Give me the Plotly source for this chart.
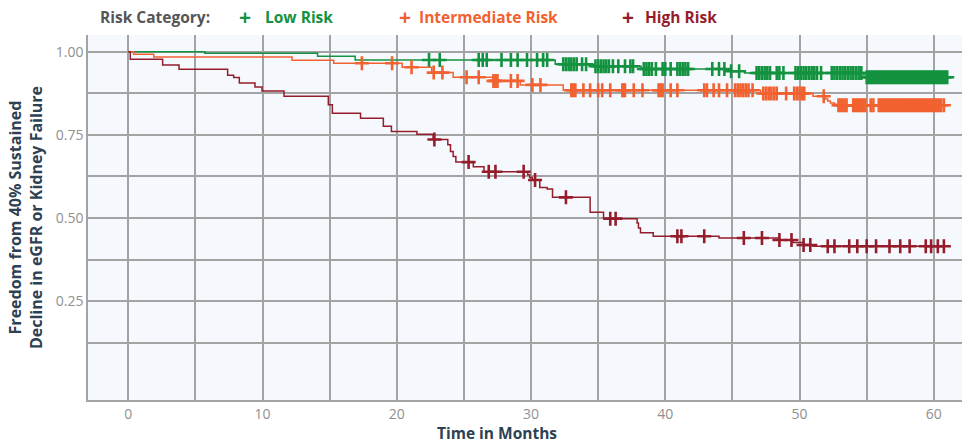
import numpy as np
import plotly.graph_objects as go

# ---------------- data ----------------
x_ticks = [0, 5, 10, 15, 20, 25, 30, 35, 40, 45, 50, 55, 60]
x_tick_text = ["0", "", "10", "", "20", "", "30", "", "40", "", "50", "", "60"]
y_ticks = [0.125, 0.25, 0.375, 0.5, 0.625, 0.75, 0.875, 1.0]
y_tick_text = ["", "0.25", "", "0.50", "", "0.75", "", "1.00"]

low_t = [0, 5.7, 14.1, 16.9, 31.8, 34.7, 38.2, 44.6, 45.9, 54.8, 61.4]
low_s = [1.0, 0.995, 0.986, 0.975, 0.962, 0.956, 0.948, 0.941, 0.936, 0.923, 0.923]
low_cens = [22.4, 23.2, 26.1, 26.4, 26.7, 27.8, 28.5, 29.0, 29.7, 30.45, 30.9, 31.2,
            32.4, 32.6, 32.8, 33.0, 33.2, 33.4, 33.8, 34.1,
            34.8, 35.0, 35.2, 35.4, 35.6, 35.8, 36.1, 36.5, 37.0, 37.4, 37.6,
            38.4, 38.6, 38.8, 39.0, 39.3, 39.8, 40.0, 40.4, 40.9, 41.1, 41.3, 41.5, 41.7,
            43.5, 44.0, 44.4, 44.9, 45.5,
            46.8, 47.0, 47.2, 47.4, 47.6, 47.8, 48.3, 48.5, 48.8,
            49.7, 49.9, 50.1, 50.3, 50.5, 50.7, 50.9, 51.1, 51.3, 51.6,
            52.4, 52.6, 52.8, 53.0, 53.2, 53.4, 53.6, 53.8, 54.0, 54.2, 54.4, 54.6,
            55.0, 55.15, 55.3, 55.45, 55.6, 55.75, 55.9, 56.05, 56.2, 56.35, 56.5,
            56.65, 56.8, 56.95, 57.1, 57.25, 57.4, 57.55, 57.7, 57.85, 58.0, 58.15,
            58.3, 58.45, 58.6, 58.75, 58.9, 59.05, 59.2, 59.35, 59.5, 59.65, 59.8,
            59.95, 60.1, 60.25, 60.4, 60.55, 60.7, 60.85, 61.0]

mid_t = [0, 0.4, 1.9, 12.2, 15.3, 20.4, 22.6, 24.2, 27.2, 29.2, 32.4, 47.1, 51.0,
         51.9, 52.1, 52.3, 52.6, 52.9, 61.1]
mid_s = [1.0, 0.992, 0.984, 0.974, 0.965, 0.953, 0.937, 0.923, 0.912, 0.900, 0.884,
         0.874, 0.866, 0.858, 0.852, 0.846, 0.842, 0.839, 0.839]
mid_cens = [17.4, 19.65, 21.1, 22.75, 23.4, 25.2, 26.1, 27.2, 27.35, 27.5, 28.5, 29.0,
            30.1, 30.7, 33.0, 33.15, 33.3, 33.9, 34.4, 35.0, 35.3, 35.9, 36.8, 36.9,
            37.0, 37.65, 38.3, 39.5, 39.65, 39.8, 40.4, 40.9,
            42.9, 43.1, 43.6, 44.0, 44.6, 45.2, 45.4, 45.6, 45.8, 46.0, 46.2, 46.5,
            47.3, 47.5, 47.7, 47.9, 48.1, 48.3, 49.0, 49.6, 49.8, 50.0, 50.2, 50.35,
            51.8, 52.9, 53.05, 53.2, 53.35, 53.5, 54.0, 54.15, 54.3, 54.45, 54.6,
            54.75, 54.9, 55.3, 55.5, 55.9, 56.05, 56.2, 56.35, 56.5, 56.65, 56.8,
            56.95, 57.1, 57.25, 57.4, 57.55, 57.7, 57.85, 58.0, 58.15, 58.3, 58.45,
            58.6, 58.75, 58.9, 59.05, 59.2, 59.35, 59.5, 59.65, 59.8, 59.95, 60.1,
            60.25, 60.4, 60.55, 60.75]

high_t = [0, 0.15, 2.56, 3.78, 7.4, 7.85, 8.27, 9.44, 9.96, 11.6, 14.9, 15.2, 17.3,
          19.0, 19.6, 21.5, 22.7, 23.8, 24.0, 24.2, 24.4, 25.7, 26.5, 29.75, 29.9,
          30.1, 30.65, 31.2, 31.6, 34.4, 35.4, 37.9, 38.0, 38.15, 39.1, 44.0, 48.5,
          49.5, 50.3, 51.0, 61.2]
high_s = [1.0, 0.977, 0.960, 0.947, 0.929, 0.922, 0.906, 0.894, 0.882, 0.866, 0.840,
          0.815, 0.800, 0.776, 0.760, 0.752, 0.736, 0.720, 0.700, 0.685, 0.668, 0.654,
          0.639, 0.630, 0.622, 0.614, 0.592, 0.587, 0.562, 0.517, 0.498, 0.485, 0.470,
          0.456, 0.445, 0.440, 0.434, 0.426, 0.419, 0.415, 0.415]
high_cens = [22.8, 25.35, 26.85, 27.35, 29.45, 30.3, 32.6, 35.9, 36.3, 40.9, 41.2,
             42.9, 45.85, 47.2, 48.5, 49.4, 50.3, 50.8, 52.1, 52.6, 53.7, 54.3, 55.0,
             55.7, 56.7, 57.5, 58.2, 59.4, 59.8, 60.3, 60.75]

series_names = ["Low Risk", "Intermediate Risk", "High Risk"]
series_colors = ["#13923f", "#f26130", "#951d2b"]

# ---------------- figure ----------------
def step_value(times, surv, q):
    idx = np.searchsorted(np.array(times), np.array(q), side="right") - 1
    return list(np.array(surv)[idx])

fig = go.Figure()
groups = [(low_t, low_s, low_cens), (mid_t, mid_s, mid_cens), (high_t, high_s, high_cens)]
for (t, s, c), name, col in zip(groups, series_names, series_colors):
    fig.add_trace(go.Scatter(x=t, y=s, mode="lines", line=dict(shape="hv", color=col, width=1.5),
                             name=name, showlegend=False, hoverinfo="skip"))
    fig.add_trace(go.Scatter(x=c, y=step_value(t, s, c), mode="markers", name=name,
                             showlegend=False,
                             marker=dict(symbol="cross-thin", size=10,
                                         line=dict(color=col, width=2.6))))

grid_col = "#a3a3a3"
title_col = "#2e4152"
fig.update_xaxes(range=[-3.0, 62.1], tickvals=x_ticks, ticktext=x_tick_text,
                 showgrid=True, gridcolor=grid_col, gridwidth=1.5, zeroline=False,
                 showline=True, linecolor=grid_col, linewidth=1.5,
                 tickfont=dict(family="Open Sans", size=14, color="#909090"))
fig.update_yaxes(range=[-0.047, 1.05], tickvals=y_ticks, ticktext=y_tick_text,
                 showgrid=True, gridcolor=grid_col, gridwidth=1.5, zeroline=False,
                 showline=True, linecolor=grid_col, linewidth=1.5,
                 tickfont=dict(family="Open Sans", size=14, color="#909090"),
                 title=dict(text="<b>Freedom from 40% Sustained<br>Decline in eGFR or Kidney Failure</b>",
                            standoff=9,
                            font=dict(family="Open Sans", size=16, color=title_col)))

W, H = 962, 443
ml, mr, mt, mb = 88, 0, 35, 43
def px_x(p):
    return (p - ml) / (W - ml - mr)
def px_y(p):
    return (H - mb - p) / (H - mt - mb)

legend_font = "Open Sans"
ann = [
    dict(text="<b>Risk Category:</b>", x=px_x(98), y=px_y(17), xanchor="left",
         font=dict(family=legend_font, size=15.5, color="#555555")),
    dict(text="<b>Time in Months</b>", x=px_x(497), y=px_y(433), xanchor="center",
         font=dict(family=legend_font, size=15.5, color=title_col)),
]
plus_x = [245, 405, 628]
text_x = [263, 417, 643]
for name, col, px, tx in zip(series_names, series_colors, plus_x, text_x):
    ann.append(dict(text="<b>+</b>", x=px_x(px), y=px_y(17), xanchor="center",
                    font=dict(family=legend_font, size=21, color=col)))
    ann.append(dict(text="<b>" + name + "</b>", x=px_x(tx), y=px_y(17), xanchor="left",
                    font=dict(family=legend_font, size=15.5, color=col)))
for a in ann:
    a.update(xref="paper", yref="paper", yanchor="middle", showarrow=False)

fig.update_layout(width=W, height=H, margin=dict(l=ml, r=mr, t=mt, b=mb, autoexpand=False),
                  plot_bgcolor="#f5f9fd", paper_bgcolor="white", annotations=ann,
                  showlegend=False)

fig.write_html("out.html", config={"displayModeBar": False},
               post_script="document.body.style.margin='0';document.body.style.overflow='hidden';")
